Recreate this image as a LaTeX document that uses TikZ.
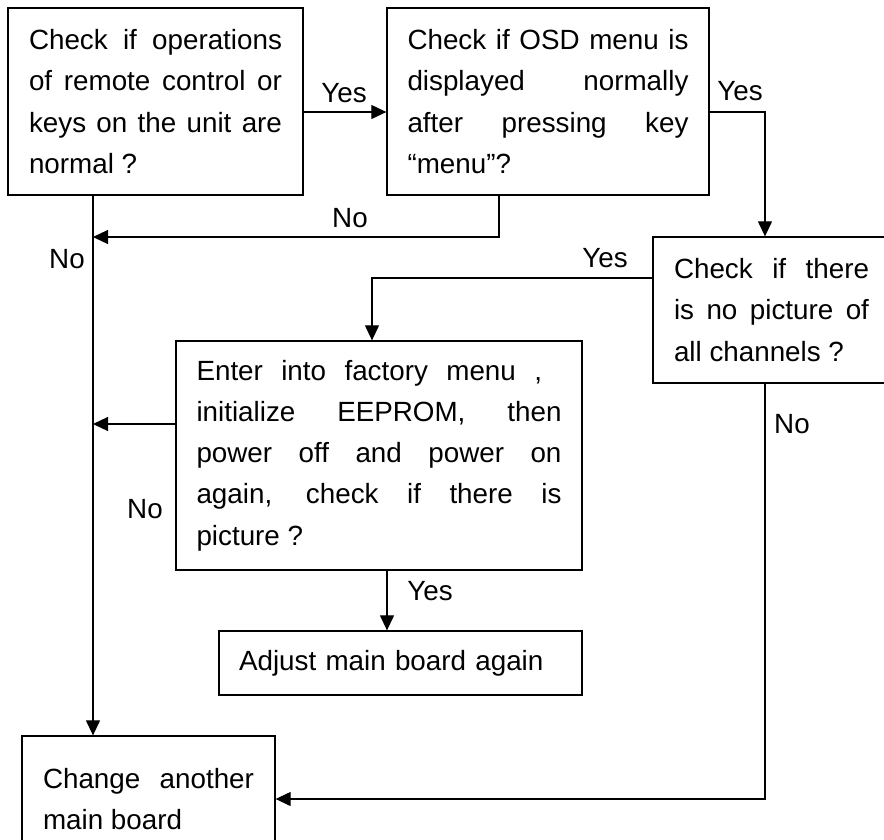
\documentclass[tikz,border=0pt]{standalone}
\usepackage{fontspec}
\setmainfont{Liberation Sans}
\usetikzlibrary{arrows.meta}
\begin{document}
\begin{tikzpicture}[x=1pt,y=-1pt,
  box/.style={draw, line width=1.3pt, inner xsep=0pt, inner ysep=0pt, align=justify, font=\fontsize{27.8}{41.3}\selectfont},
  lbl/.style={anchor=base, inner sep=0pt, font=\fontsize{27.8}{41.3}\selectfont},
  conn/.style={line width=1.2pt},
  arr/.style={conn, -{Triangle[length=15pt,width=14pt]}}]
\useasboundingbox (0,0) rectangle (884,839);
\clip (0,0) rectangle (884,839);

\node[box, minimum width=295pt, minimum height=187pt, text width=253pt] (A) at (155.5,101.5)
  {Check if operations\linebreak of remote control or\linebreak keys on the unit are\linebreak normal ?};
\node[box, minimum width=322pt, minimum height=187pt, text width=281pt] (B) at (548,101.5)
  {Check if OSD menu is\linebreak displayed normally\linebreak after pressing key\linebreak “menu”?};
\node[box, minimum width=237pt, minimum height=146pt, text width=195pt] (C) at (771.5,310)
  {Check if there\linebreak is no picture of\linebreak all channels ?};
\node[box, minimum width=406pt, minimum height=229pt, text width=365pt] (D) at (379,455.5)
  {Enter into factory menu ,\hspace*{0.7em}\linebreak initialize EEPROM, then\linebreak power off and power on\linebreak again, check if there is\linebreak picture ?};
\node[box, align=left, minimum width=363pt, minimum height=64pt, text width=323pt] (E) at (400.5,663)
  {Adjust main board again};
\node[box, minimum width=253pt, minimum height=126pt, text width=211pt] (F) at (148.5,799)
  {Change another\linebreak main board};

\coordinate (j1) at (93,237);
\coordinate (j2) at (93,424);

\draw[arr] ([yshift=-10.5pt]A.east) -- ([yshift=-10.5pt]B.west);
\draw[arr] ([yshift=-10.5pt]B.east) -| ([xshift=-6.5pt]C.north);
\draw[arr] ([xshift=-49pt]B.south) |- (j1);
\draw[arr] ([xshift=-62.5pt]A.south) -- ([xshift=-55.5pt]F.north);
\draw[arr] ([yshift=32pt]C.west) -| ([xshift=-7pt]D.north);
\draw[arr] ([yshift=31.5pt]D.west) -- (j2);
\draw[arr] ([xshift=8pt]D.south) -- ([xshift=8pt]D.south |- E.north);
\draw[arr] ([xshift=-6.5pt]C.south) |- (F.east);

\node[lbl] (l1) at (344,102) {Yes};
\node[lbl] (l2) at (350,227) {No};
\node[lbl] (l3) at (67,268) {No};
\node[lbl] (l4) at (740,100) {Yes};
\node[lbl] (l5) at (605,267) {Yes};
\node[lbl] (l6) at (145,518) {No};
\node[lbl] (l7) at (792,433) {No};
\node[lbl] (l8) at (430,600) {Yes};
\end{tikzpicture}
\end{document}
